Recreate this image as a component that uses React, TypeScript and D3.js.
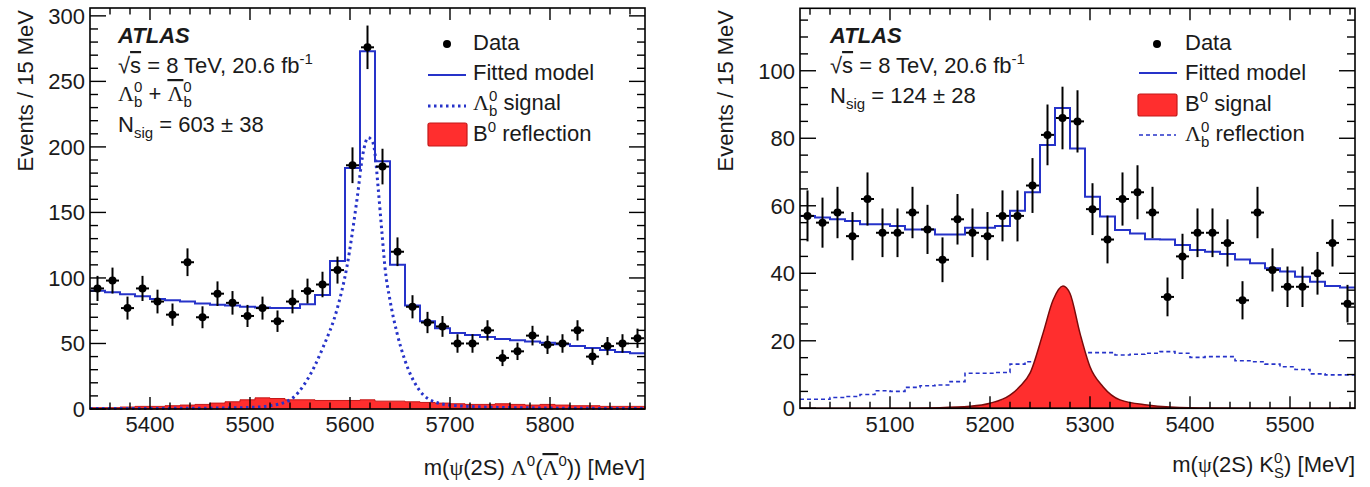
import React from 'react';
import * as d3 from 'd3';

const BIN_WIDTH = 15;

// ---------- Left panel (Lambda_b) ----------
const leftXDomain: [number, number] = [5340, 5895];
const leftYDomain: [number, number] = [0, 306];
const leftXTicks = [5400, 5500, 5600, 5700, 5800];
const leftYTicks = [0, 50, 100, 150, 200, 250, 300];
const leftData = [92, 98, 77, 92, 82, 72, 112, 70, 88, 81, 71, 77, 67, 82, 90, 95, 106, 186, 276, 185, 120, 78, 66, 63, 50, 50, 60, 39, 44, 56, 49, 50, 60, 40, 48, 50, 54];
const leftModel = [90.3, 89, 87.5, 86, 84, 83, 82, 80.5, 79.5, 79, 78, 77.5, 77, 77, 80, 87, 113, 184, 273, 189, 110, 79, 67, 61.6, 58, 56.5, 55, 53.5, 52.5, 51.5, 50.5, 49.5, 48, 46.5, 45, 43.5, 42.5];
const leftReflection = [1, 1, 1.5, 2, 2, 2.5, 3, 3.5, 4.5, 5.5, 7, 8.5, 8, 7, 7, 6.5, 6.5, 6.5, 7, 6, 6, 5.5, 5, 4.5, 4, 3.5, 3.5, 4, 3.5, 3, 3.5, 3, 2.5, 2.5, 2, 2, 2];
const leftSignalMass = [5340, 5450, 5500, 5520, 5540, 5557, 5573, 5587, 5597, 5607, 5613, 5618, 5622, 5625, 5628, 5632, 5635, 5640, 5647, 5655, 5667, 5680, 5700, 5750, 5895];
const leftSignalValue = [0.3, 0.6, 1.2, 2.5, 7, 22, 47, 76, 109, 160, 195, 207, 205, 195, 170, 134, 108, 83, 58, 37, 17, 7, 3, 1.2, 0.3];

// ---------- Right panel (B0) ----------
const rightXDomain: [number, number] = [5010, 5565];
const rightYDomain: [number, number] = [0, 118.5];
const rightXTicks = [5100, 5200, 5300, 5400, 5500];
const rightYTicks = [0, 20, 40, 60, 80, 100];
const rightData = [57, 55, 58, 51, 62, 52, 52, 58, 53, 44, 56, 52, 51, 57, 57, 66, 81, 86, 85, 59, 50, 62, 64, 58, 33, 45, 52, 52, 49, 32, 58, 41, 36, 36, 40, 49, 31];
const rightModel = [57, 56.5, 56, 55.5, 54.5, 54.5, 54, 53, 53, 51.5, 51.5, 53.5, 53.5, 54, 58.5, 64, 78, 89, 77, 62.7, 56.8, 52.8, 51.8, 50.1, 50, 48.4, 46.9, 46.4, 45.7, 44.1, 43, 41.5, 40.5, 39, 37.5, 36.2, 35.8];
const rightReflection = [2.7, 2.7, 3.2, 3.5, 4.1, 5.2, 5.0, 6.2, 6.7, 6.9, 7.9, 10.4, 10.4, 10.6, 13.1, 13.8, 14.5, 15.5, 15.8, 16.5, 16.5, 15.8, 16, 16.3, 16.8, 16.3, 15.1, 15.3, 15.3, 14.1, 13.8, 13.1, 12.3, 11.5, 10.2, 9.9, 9.9];
const rightSignalMass = [5010, 5100, 5150, 5180, 5200, 5220, 5230, 5240, 5253, 5263, 5273, 5280, 5290, 5300, 5313, 5330, 5357, 5380, 5420, 5565];
const rightSignalValue = [0, 0.05, 0.2, 0.6, 1.5, 3.9, 6.5, 10.4, 22.2, 32, 36.2, 34, 22.2, 12.3, 6.4, 2.5, 1, 0.4, 0.1, 0];

const FONT = "'Liberation Sans', Arial, Helvetica, sans-serif";
const GREEK = "'Liberation Serif', 'DejaVu Serif', serif";
const BLUE = '#2633c9';
const RED = '#ff2e2e';
const TEXT = '#1a1a1a';

type Part = { t: string; k?: 'n' | 'sup' | 'sub'; back?: number; font?: string; over?: boolean; bold?: boolean };

function Rich({ x, y, parts, size = 22, anchor = 'start', rotate }: { x: number; y: number; parts: Part[]; size?: number; anchor?: string; rotate?: number }) {
  let cur = 0;
  return (
    <text x={x} y={y} fontSize={size} fontFamily={FONT} fill={TEXT} textAnchor={anchor}
      transform={rotate ? `rotate(${rotate},${x},${y})` : undefined}>
      {parts.map((p, i) => {
        const target = p.k === 'sup' ? -9 : p.k === 'sub' ? 6 : 0;
        const dy = target - cur;
        cur = target;
        const fs = p.k === 'sup' || p.k === 'sub' ? 15 : size;
        return (
          <tspan key={i} dy={dy !== 0 ? dy : undefined} dx={p.back} fontSize={fs}
            fontFamily={p.font} style={p.over ? { textDecoration: 'overline' } : undefined}>{p.t}</tspan>
        );
      })}
    </text>
  );
}

type PanelProps = {
  left: number; right: number; top: number; bottom: number;
  xDomain: [number, number]; yDomain: [number, number];
  xTicks: number[]; xMinor: number; yTicks: number[]; yMinor: number;
  data: number[]; model: number[];
  reflection: number[]; reflectionKind: 'fill' | 'dash';
  sigMass: number[]; sigVal: number[]; sigKind: 'dotted' | 'filled';
  yTitleX: number; xTitle: React.ReactNode;
};

function Panel(p: PanelProps) {
  const x = d3.scaleLinear().domain(p.xDomain).range([p.left, p.right]);
  const y = d3.scaleLinear().domain(p.yDomain).range([p.bottom, p.top]);
  const n = p.data.length;
  const edges = d3.range(n + 1).map(i => p.xDomain[0] + i * BIN_WIDTH);
  const centers = d3.range(n).map(i => p.xDomain[0] + (i + 0.5) * BIN_WIDTH);

  const stepPts = (vals: number[]) => [...vals.map((v, i) => [edges[i], v] as [number, number]), [edges[n], vals[n - 1]] as [number, number]];
  const stepLine = d3.line<[number, number]>().x(d => x(d[0])).y(d => y(d[1])).curve(d3.curveStepAfter);
  const stepArea = d3.area<[number, number]>().x(d => x(d[0])).y0(y(0)).y1(d => y(d[1])).curve(d3.curveStepAfter);
  const sigPts = p.sigMass.map((m, i) => [m, p.sigVal[i]] as [number, number]);
  const smoothLine = d3.line<[number, number]>().x(d => x(d[0])).y(d => y(d[1])).curve(d3.curveMonotoneX);
  const smoothArea = d3.area<[number, number]>().x(d => x(d[0])).y0(y(0)).y1(d => y(d[1])).curve(d3.curveMonotoneX);

  const xMinorTicks = d3.range(Math.ceil(p.xDomain[0] / p.xMinor) * p.xMinor, p.xDomain[1], p.xMinor).filter(v => v > p.xDomain[0] && v < p.xDomain[1]);
  const yMinorTicks = d3.range(p.yMinor, p.yDomain[1], p.yMinor);

  return (
    <g>
      {p.reflectionKind === 'fill' && (
        <path d={stepArea(stepPts(p.reflection)) || ''} fill={RED} stroke="#c41818" strokeWidth={1} />
      )}
      {p.reflectionKind === 'dash' && (
        <path d={stepLine(stepPts(p.reflection)) || ''} fill="none" stroke={BLUE} strokeWidth={1.6} strokeDasharray="4 3" />
      )}
      {p.sigKind === 'filled' && (
        <path d={smoothArea(sigPts) || ''} fill={RED} stroke="#7a0a0a" strokeWidth={1.5} />
      )}
      {p.sigKind === 'dotted' && (
        <path d={smoothLine(sigPts) || ''} fill="none" stroke={BLUE} strokeWidth={3} strokeDasharray="2.5 3.5" />
      )}
      <path d={stepLine(stepPts(p.model)) || ''} fill="none" stroke={BLUE} strokeWidth={2} />
      {p.data.map((v, i) => {
        const cx = x(centers[i]);
        const err = Math.sqrt(v);
        return (
          <g key={i}>
            <line x1={cx} x2={cx} y1={y(v + err)} y2={y(Math.max(0, v - err))} stroke="#000" strokeWidth={2} />
            <line x1={cx - 6.5} x2={cx + 6.5} y1={y(v)} y2={y(v)} stroke="#000" strokeWidth={2} />
            <circle cx={cx} cy={y(v)} r={4} fill="#000" />
          </g>
        );
      })}
      {/* axes frame */}
      <rect x={p.left} y={p.top} width={p.right - p.left} height={p.bottom - p.top} fill="none" stroke="#000" strokeWidth={1.6} />
      {p.xTicks.map(t => (
        <g key={'xt' + t}>
          <line x1={x(t)} x2={x(t)} y1={p.bottom} y2={p.bottom - 12} stroke="#000" strokeWidth={1.4} />
          <line x1={x(t)} x2={x(t)} y1={p.top} y2={p.top + 12} stroke="#000" strokeWidth={1.4} />
          <text x={x(t)} y={432} textAnchor="middle" fontSize={22} fontFamily={FONT} fill={TEXT}>{t}</text>
        </g>
      ))}
      {xMinorTicks.filter(t => !p.xTicks.includes(t)).map(t => (
        <g key={'xm' + t}>
          <line x1={x(t)} x2={x(t)} y1={p.bottom} y2={p.bottom - 6.5} stroke="#000" strokeWidth={1.4} />
          <line x1={x(t)} x2={x(t)} y1={p.top} y2={p.top + 6.5} stroke="#000" strokeWidth={1.4} />
        </g>
      ))}
      {p.yTicks.map(t => (
        <g key={'yt' + t}>
          <line x1={p.left} x2={p.left + 16} y1={y(t)} y2={y(t)} stroke="#000" strokeWidth={1.4} />
          <line x1={p.right} x2={p.right - 16} y1={y(t)} y2={y(t)} stroke="#000" strokeWidth={1.4} />
          <text x={p.left - 5} y={y(t) + 8} textAnchor="end" fontSize={22} fontFamily={FONT} fill={TEXT}>{t}</text>
        </g>
      ))}
      {yMinorTicks.filter(t => !p.yTicks.includes(t)).map(t => (
        <g key={'ym' + t}>
          <line x1={p.left} x2={p.left + 8} y1={y(t)} y2={y(t)} stroke="#000" strokeWidth={1.4} />
          <line x1={p.right} x2={p.right - 8} y1={y(t)} y2={y(t)} stroke="#000" strokeWidth={1.4} />
        </g>
      ))}
      <Rich x={p.yTitleX} y={10} anchor="end" rotate={-90} parts={[{ t: 'Events / 15 MeV' }]} />
      {p.xTitle}
    </g>
  );
}

export default function App() {
  return (
    <svg width={1370} height={487} style={{ position: 'absolute', left: 0, top: 0, background: '#fff' }}>
      <rect width={1370} height={487} fill="#fff" />
      <Panel left={90} right={645} top={8} bottom={409}
        xDomain={leftXDomain} yDomain={leftYDomain}
        xTicks={leftXTicks} xMinor={20} yTicks={leftYTicks} yMinor={10}
        data={leftData} model={leftModel}
        reflection={leftReflection} reflectionKind="fill"
        sigMass={leftSignalMass} sigVal={leftSignalValue} sigKind="dotted"
        yTitleX={33}
        xTitle={<Rich x={645} y={475} anchor="end" parts={[
          { t: 'm(' }, { t: 'ψ', font: GREEK }, { t: '(2S) ' }, { t: 'Λ', font: GREEK },
          { t: '0', k: 'sup' }, { t: '(', k: 'n' }, { t: 'Λ', font: GREEK, over: true }, { t: '0', k: 'sup' }, { t: ')) [MeV]', k: 'n' },
        ]} />}
      />
      <Panel left={800} right={1355} top={8.3} bottom={408.3}
        xDomain={rightXDomain} yDomain={rightYDomain}
        xTicks={rightXTicks} xMinor={20} yTicks={rightYTicks} yMinor={5}
        data={rightData} model={rightModel}
        reflection={rightReflection} reflectionKind="dash"
        sigMass={rightSignalMass} sigVal={rightSignalValue} sigKind="filled"
        yTitleX={733}
        xTitle={<Rich x={1355} y={472} anchor="end" parts={[
          { t: 'm(' }, { t: 'ψ', font: GREEK }, { t: '(2S) K' },
          { t: '0', k: 'sup' }, { t: 'S', k: 'sub', back: -8.3 }, { t: ') [MeV]', k: 'n' },
        ]} />}
      />

      {/* Left annotations */}
      <text x={118} y={43} fontSize={22} fontFamily={FONT} fontWeight="bold" fontStyle="italic" fill={TEXT}>ATLAS</text>
      <Rich x={118} y={73} parts={[{ t: '√' }, { t: 's', over: true }, { t: ' = 8 TeV, 20.6 fb' }, { t: '-1', k: 'sup' }]} />
      <Rich x={118} y={101} parts={[
        { t: 'Λ', font: GREEK }, { t: '0', k: 'sup' }, { t: 'b', k: 'sub', back: -8.3 },
        { t: ' + ', k: 'n' }, { t: 'Λ', font: GREEK, over: true }, { t: '0', k: 'sup' }, { t: 'b', k: 'sub', back: -8.3 },
      ]} />
      <Rich x={118} y={132} parts={[{ t: 'N' }, { t: 'sig', k: 'sub' }, { t: ' = 603 ± 38', k: 'n' }]} />

      {/* Left legend */}
      <circle cx={447} cy={44} r={4} fill="#000" />
      <text x={473} y={50} fontSize={22} fontFamily={FONT} fill={TEXT}>Data</text>
      <line x1={428} x2={466} y1={75} y2={75} stroke={BLUE} strokeWidth={2} />
      <text x={473} y={80} fontSize={22} fontFamily={FONT} fill={TEXT}>Fitted model</text>
      <line x1={428} x2={466} y1={106} y2={106} stroke={BLUE} strokeWidth={3} strokeDasharray="2.5 3.5" />
      <Rich x={473} y={110} parts={[{ t: 'Λ', font: GREEK }, { t: '0', k: 'sup' }, { t: 'b', k: 'sub', back: -8.3 }, { t: ' signal', k: 'n' }]} />
      <rect x={428} y={123} width={39} height={23} rx={2} fill={RED} stroke="#c41818" strokeWidth={1.2} />
      <Rich x={473} y={141} parts={[{ t: 'B' }, { t: '0', k: 'sup' }, { t: ' reflection', k: 'n' }]} />

      {/* Right annotations */}
      <text x={830} y={43} fontSize={22} fontFamily={FONT} fontWeight="bold" fontStyle="italic" fill={TEXT}>ATLAS</text>
      <Rich x={830} y={73} parts={[{ t: '√' }, { t: 's', over: true }, { t: ' = 8 TeV, 20.6 fb' }, { t: '-1', k: 'sup' }]} />
      <Rich x={830} y={103} parts={[{ t: 'N' }, { t: 'sig', k: 'sub' }, { t: ' = 124 ± 28', k: 'n' }]} />

      {/* Right legend */}
      <circle cx={1157} cy={44} r={4} fill="#000" />
      <text x={1185} y={50} fontSize={22} fontFamily={FONT} fill={TEXT}>Data</text>
      <line x1={1139} x2={1177} y1={73} y2={73} stroke={BLUE} strokeWidth={2} />
      <text x={1185} y={80} fontSize={22} fontFamily={FONT} fill={TEXT}>Fitted model</text>
      <rect x={1138} y={94} width={39} height={22} rx={2} fill={RED} stroke="#c41818" strokeWidth={1.2} />
      <Rich x={1185} y={111} parts={[{ t: 'B' }, { t: '0', k: 'sup' }, { t: ' signal', k: 'n' }]} />
      <line x1={1139} x2={1176} y1={135} y2={135} stroke={BLUE} strokeWidth={1.6} strokeDasharray="4 3" />
      <Rich x={1185} y={141} parts={[{ t: 'Λ', font: GREEK }, { t: '0', k: 'sup' }, { t: 'b', k: 'sub', back: -8.3 }, { t: ' reflection', k: 'n' }]} />
    </svg>
  );
}
